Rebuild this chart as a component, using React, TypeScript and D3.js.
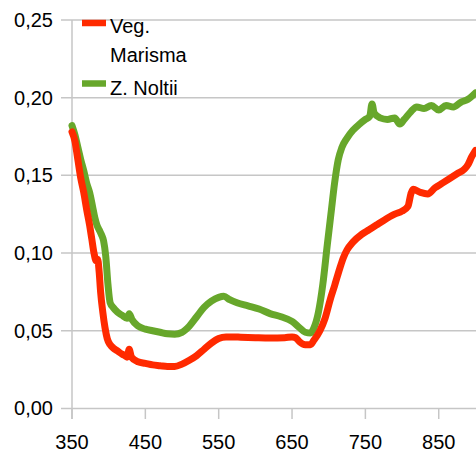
import React, { useEffect, useRef } from 'react';
import * as d3 from 'd3';

// wavelength (nm) for each series
const vegWave = [350, 354, 358, 362, 366, 370, 374, 377, 380, 383, 385, 387, 389, 392, 395, 398, 402, 406, 412, 418, 422, 425, 428, 431, 440, 450, 460, 470, 480, 490, 500, 510, 520, 530, 540, 550, 560, 570, 580, 600, 620, 640, 650, 655, 660, 668, 675, 680, 688, 695, 702, 708, 715, 720, 725, 733, 745, 755, 765, 775, 790, 800, 808, 812, 815, 825, 835, 845, 855, 865, 875, 885, 890, 895, 900];
const vegMarisma = [0.178, 0.172, 0.160, 0.148, 0.139, 0.128, 0.118, 0.109, 0.100, 0.095, 0.096, 0.088, 0.075, 0.062, 0.052, 0.045, 0.041, 0.039, 0.037, 0.035, 0.034, 0.033, 0.038, 0.033, 0.030, 0.029, 0.028, 0.0275, 0.027, 0.027, 0.0285, 0.031, 0.034, 0.038, 0.042, 0.045, 0.046, 0.046, 0.0458, 0.0455, 0.0453, 0.0455, 0.046, 0.0455, 0.043, 0.041, 0.041, 0.044, 0.050, 0.058, 0.070, 0.079, 0.090, 0.097, 0.102, 0.107, 0.112, 0.115, 0.118, 0.121, 0.125, 0.127, 0.130, 0.138, 0.141, 0.139, 0.138, 0.142, 0.145, 0.148, 0.151, 0.154, 0.157, 0.162, 0.166];

const noltiiWave = [350, 354, 358, 362, 366, 370, 374, 378, 381, 384, 387, 390, 393, 396, 399, 402, 406, 412, 418, 425, 428, 432, 440, 450, 460, 470, 480, 490, 500, 510, 520, 530, 540, 550, 557, 565, 575, 590, 605, 620, 635, 650, 660, 668, 675, 680, 686, 692, 698, 703, 708, 713, 718, 725, 733, 742, 750, 756, 759, 762, 770, 780, 790, 797, 803, 812, 820, 830, 840, 850, 860, 870, 880, 890, 900];
const zNoltii = [0.182, 0.176, 0.168, 0.160, 0.153, 0.145, 0.139, 0.130, 0.123, 0.118, 0.115, 0.112, 0.108, 0.098, 0.080, 0.068, 0.065, 0.062, 0.060, 0.058, 0.061, 0.057, 0.053, 0.051, 0.050, 0.049, 0.048, 0.0478, 0.049, 0.053, 0.059, 0.065, 0.069, 0.0715, 0.0722, 0.070, 0.068, 0.066, 0.064, 0.061, 0.059, 0.056, 0.052, 0.049, 0.0485, 0.052, 0.062, 0.080, 0.105, 0.125, 0.145, 0.160, 0.168, 0.174, 0.179, 0.183, 0.186, 0.188, 0.196, 0.190, 0.187, 0.186, 0.187, 0.183, 0.186, 0.191, 0.194, 0.193, 0.195, 0.192, 0.195, 0.194, 0.197, 0.199, 0.203];

const xTicks = [350, 450, 550, 650, 750, 850];
const yTicks = [0, 0.05, 0.1, 0.15, 0.2, 0.25];

const RED = '#ff2a00';
const GREEN = '#67a72b';

function App() {
  const ref = useRef<SVGSVGElement>(null);

  useEffect(() => {
    const svg = d3.select(ref.current);
    svg.selectAll('*').remove();

    const x = d3.scaleLinear().domain([350, 900]).range([72, 475.4]);
    const y = d3.scaleLinear().domain([0, 0.25]).range([408.4, 20]);
    const fmt = d3.formatLocale({ decimal: ',', thousands: '.', grouping: [3], currency: ['', ''] }).format('.2f');

    // horizontal grid
    svg.append('g')
      .selectAll('line')
      .data(yTicks)
      .enter()
      .append('line')
      .attr('x1', 61)
      .attr('x2', 476)
      .attr('y1', d => y(d))
      .attr('y2', d => y(d))
      .attr('stroke', '#c6c6c6')
      .attr('stroke-width', 1.5);

    // y axis line
    svg.append('line')
      .attr('x1', 72).attr('x2', 72)
      .attr('y1', y(0.25)).attr('y2', 419)
      .attr('stroke', '#c6c6c6')
      .attr('stroke-width', 1.5);

    // x ticks
    svg.append('g')
      .selectAll('line')
      .data(xTicks)
      .enter()
      .append('line')
      .attr('x1', d => x(d))
      .attr('x2', d => x(d))
      .attr('y1', y(0))
      .attr('y2', 419)
      .attr('stroke', '#c6c6c6')
      .attr('stroke-width', 1.5);

    const font = '"Liberation Sans", Arial, sans-serif';

    svg.append('g')
      .selectAll('text')
      .data(yTicks)
      .enter()
      .append('text')
      .attr('x', 53)
      .attr('y', d => y(d) + 7)
      .attr('text-anchor', 'end')
      .attr('font-family', font)
      .attr('font-size', 20)
      .attr('fill', '#000')
      .text(d => fmt(d));

    svg.append('g')
      .selectAll('text')
      .data(xTicks)
      .enter()
      .append('text')
      .attr('x', d => x(d))
      .attr('y', 449)
      .attr('text-anchor', 'middle')
      .attr('font-family', font)
      .attr('font-size', 20)
      .attr('fill', '#000')
      .text(d => d);

    const line = d3.line<[number, number]>()
      .x(d => x(d[0]))
      .y(d => y(d[1]))
      .curve(d3.curveMonotoneX);

    const series = [
      { wave: noltiiWave, vals: zNoltii, color: GREEN },
      { wave: vegWave, vals: vegMarisma, color: RED },
    ];

    series.forEach(s => {
      svg.append('path')
        .datum(s.wave.map((w, i) => [w, s.vals[i]] as [number, number]))
        .attr('d', line)
        .attr('fill', 'none')
        .attr('stroke', s.color)
        .attr('stroke-width', 7)
        .attr('stroke-linejoin', 'round')
        .attr('stroke-linecap', 'round');
    });

    // legend
    const legend = svg.append('g');
    legend.append('line')
      .attr('x1', 82).attr('x2', 106)
      .attr('y1', 23).attr('y2', 23)
      .attr('stroke', RED).attr('stroke-width', 6.5);
    legend.append('line')
      .attr('x1', 82).attr('x2', 106)
      .attr('y1', 83.5).attr('y2', 83.5)
      .attr('stroke', GREEN).attr('stroke-width', 6.5);
    [['Veg.', 33], ['Marisma', 62], ['Z. Noltii', 95]].forEach(([t, by]) => {
      legend.append('text')
        .attr('x', 110)
        .attr('y', by as number)
        .attr('font-family', font)
        .attr('font-size', 20)
        .attr('fill', '#000')
        .text(t as string);
    });
  }, []);

  return (
    <svg
      ref={ref}
      width={476}
      height={452}
      style={{ position: 'absolute', left: 0, top: 0, background: '#fff' }}
    />
  );
}

export default App;
